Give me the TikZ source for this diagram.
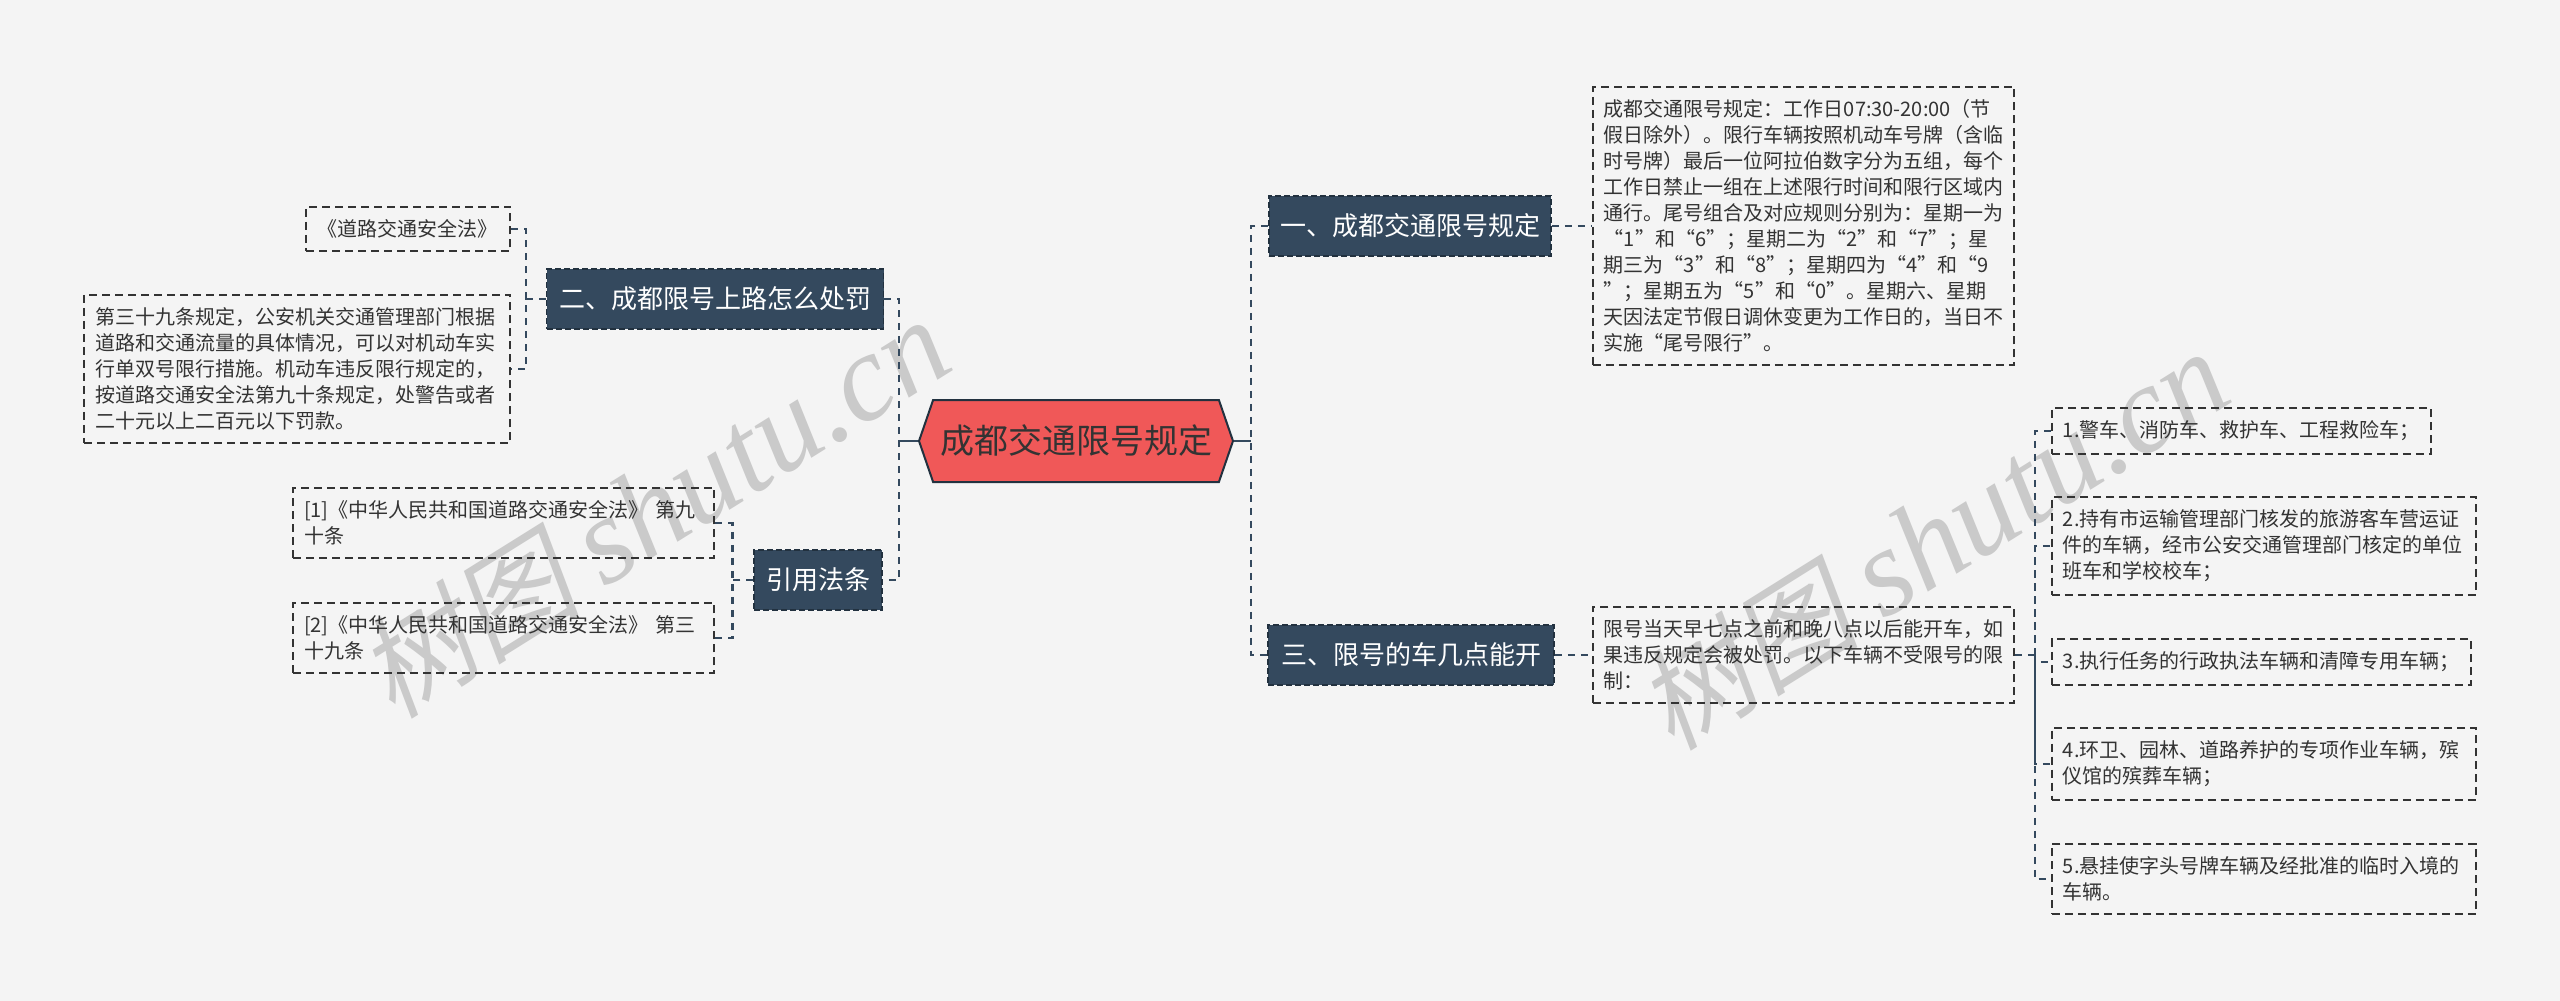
\documentclass[tikz,border=0pt]{standalone}
\usepackage{fontspec}
\usepackage{tikz}
\usetikzlibrary{shapes.symbols}
\newfontfamily\cjk{Noto Sans CJK SC}
\newfontfamily\wmcjk[FakeSlant=0.2]{Noto Sans CJK SC}
\newfontfamily\wmserif{Liberation Serif}
\definecolor{bgcol}{HTML}{F4F4F4}
\definecolor{navy}{HTML}{34495E}
\definecolor{navyedge}{HTML}{22313F}
\definecolor{rootred}{HTML}{F05858}
\definecolor{notegray}{HTML}{333333}
\definecolor{wmgray}{HTML}{CACACA}

\begin{document}
\begin{tikzpicture}[x=1pt,y=-1pt,
    rootnode/.style={signal, signal to=west and east, signal pointer angle=142,
      draw=navyedge, line width=2pt, fill=rootred, text=notegray,
      font=\cjk\fontsize{34}{40}\selectfont, minimum width=314pt, minimum height=82pt, inner sep=0pt},
    branch/.style={draw=navyedge, dash pattern=on 6pt off 3pt, line width=1.5pt, fill=navy,
      text=white, font=\cjk\fontsize{26}{30}\selectfont, minimum height=60pt, inner sep=0pt},
    note/.style={draw=notegray, dash pattern=on 8pt off 5pt, line width=1.8pt, text=notegray,
      font=\cjk\fontsize{20}{26}\selectfont, align=left, inner xsep=11pt, inner ysep=13pt},
    link/.style={draw=navy, line width=2.5pt, dash pattern=on 7pt off 6pt},
    rootlink/.style={draw=navy, line width=2.5pt},
    wmtext/.style={text=wmgray, rotate=32, inner sep=0pt}]

    \fill[bgcol] (0,0) rectangle (2560,1001);
    \useasboundingbox (0,0) rectangle (2560,1001);

    % watermark
    \node[wmtext] (wm1) at (653,508) {\wmcjk\fontsize{112}{112}\selectfont 树图\ \wmserif\itshape\fontsize{124}{124}\selectfont shutu.cn};
    \node[wmtext] (wm2) at (1932,540) {\wmcjk\fontsize{112}{112}\selectfont 树图\ \wmserif\itshape\fontsize{124}{124}\selectfont shutu.cn};

    % centre and branches
    \node[rootnode] (root) at (1076,441) {成都交通限号规定};
    \node[branch, minimum width=282pt] (rule) at (1410,226) {一、成都交通限号规定};
    \node[branch, minimum width=286pt] (hours) at (1411,655) {三、限号的车几点能开};
    \node[branch, minimum width=337pt] (fine) at (715,299) {二、成都限号上路怎么处罚};
    \node[branch, minimum width=128pt] (refs) at (818,580) {引用法条};

    % notes on the right
    \node[note, text width=399pt, anchor=west] (ruletxt) at (1592,226) {成都交通限号规定：工作日\mbox{07:30-20:00}（节\\
      假日除外）。限行车辆按照机动车号牌（含临\\
      时号牌）最后一位阿拉伯数字分为五组，每个\\
      工作日禁止一组在上述限行时间和限行区域内\\
      通行。尾号组合及对应规则分别为：星期一为\\
      “1”和“6”；星期二为“2”和“7”；星\\
      期三为“3”和“8”；星期四为“4”和“9\\
      ”；星期五为“5”和“0”。星期六、星期\\
      天因法定节假日调休变更为工作日的，当日不\\
      实施“尾号限行”。};
    \node[note, text width=399pt, anchor=west] (hourtxt) at (1592,655) {限号当天早七点之前和晚八点以后能开车，如\\
      果违反规定会被处罚。以下车辆不受限号的限\\
      制：};
    \node[note, text width=357pt, anchor=west] (veh1) at (2051,431) {1.警车、消防车、救护车、工程救险车；};
    \node[note, text width=402pt, anchor=west] (veh2) at (2051,546) {2.持有市运输管理部门核发的旅游客车营运证\\
      件的车辆，经市公安交通管理部门核定的单位\\
      班车和学校校车；};
    \node[note, text width=397pt, anchor=west] (veh3) at (2051,662) {3.执行任务的行政执法车辆和清障专用车辆；};
    \node[note, text width=402pt, anchor=west] (veh4) at (2051,764) {4.环卫、园林、道路养护的专项作业车辆，殡\\
      仪馆的殡葬车辆；};
    \node[note, text width=402pt, anchor=west] (veh5) at (2051,879) {5.悬挂使字头号牌车辆及经批准的临时入境的\\
      车辆。};

    % notes on the left
    \node[note, text width=182pt, anchor=east] (law) at (511,229) {《道路交通安全法》};
    \node[note, text width=404pt, anchor=east] (art39) at (511,369) {第三十九条规定，公安机关交通管理部门根据\\
      道路和交通流量的具体情况，可以对机动车实\\
      行单双号限行措施。机动车违反限行规定的，\\
      按道路交通安全法第九十条规定，处警告或者\\
      二十元以上二百元以下罚款。};
    \node[note, text width=399pt, anchor=east] (ref1) at (715,523) {[1]《中华人民共和国道路交通安全法》 第九\\
      十条};
    \node[note, text width=399pt, anchor=east] (ref2) at (715,638) {[2]《中华人民共和国道路交通安全法》 第三\\
      十九条};

    % connectors
    \draw[rootlink] (root.west) -- ++(-19,0) coordinate (ltrunk);
    \draw[rootlink] (root.east) -- ++(17,0) coordinate (rtrunk);
    \draw[link] (fine.east) -| (ltrunk) |- (refs.east);
    \draw[link] (rule.west) -| (rtrunk) |- (hours.west);

    \draw[link] (fine.west) -- ++(-20,0) coordinate (ftrunk);
    \draw[link] (law.east) -| (ftrunk) |- (art39.east);
    \draw[link] (refs.west) -- ++(-21,0) coordinate (qtrunk);
    \draw[link] (ref1.east) -| (qtrunk) |- (ref2.east);

    \draw[link] (rule.east) -- (ruletxt.west);
    \draw[link] (hours.east) -- (hourtxt.west);
    \draw[link] (hourtxt.east) -- ++(20,0) coordinate (htrunk);
    \draw[link] (veh1.west) -| (htrunk) |- (veh5.west);
    \draw[link] (htrunk) |- (veh2.west);
    \draw[link] (htrunk) |- (veh3.west);
    \draw[link] (htrunk) |- (veh4.west);
\end{tikzpicture}
\end{document}
